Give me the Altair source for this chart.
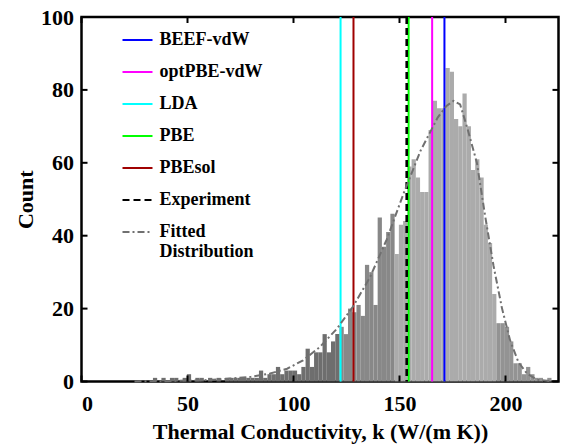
import altair as alt
import pandas as pd

# ---------------- data ----------------
bin_start = 33.7
bin_width = 2.0
counts = [1, 0, 1, 0, 1, 1, 0, 1, 2, 0,
          1, 1, 0, 1, 0, 1, 0, 1, 1, 1,
          1, 1, 1, 1, 1, 3, 1, 2, 2, 4,
          2, 3, 3, 3, 2, 4, 9, 4, 8, 8,
          13, 8, 11, 13, 15, 13, 20, 19, 21, 18,
          32, 30, 21, 45, 37, 41, 46, 35, 43, 44,
          59, 61, 56, 52, 52, 69, 77, 75, 75, 86,
          85, 72, 70, 79, 70, 58, 61, 56, 43, 38,
          24, 16, 16, 15, 11, 5, 5, 2, 4, 2,
          1, 1, 0, 1]
shade_edges = [121.7, 147.7, 195.7]
shade_colors = ["#6e6e6e", "#888888", "#ababab", "#939393"]

methods = ["BEEF-vdW", "optPBE-vdW", "LDA", "PBE", "PBEsol", "Experiment"]
method_k = [171.2, 165.4, 122.2, 154.3, 128.3, 153.4]
method_colors = ["#0000ff", "#ff00ff", "#00ffff", "#00ff00", "#a00000", "#000000"]
fit_name = "Fitted Distribution"
fit_color = "#707070"

fit_x = [25, 40, 60, 70, 80, 89, 97, 104.5, 112.5, 120.5, 128, 136, 144, 152,
         160, 168, 172, 175.5, 178.6, 182, 186.5, 190.4, 194.3, 198.3, 202.2,
         206.1, 210.1, 214.8, 222]
fit_y = [0.02, 0.1, 0.4, 0.8, 1.3, 2.2, 3.5, 5.8, 9.5, 14.5, 20.5, 28.5, 39, 51.7,
         63.4, 72.4, 75.5, 77, 76, 69.5, 60, 45.4, 31.9, 20.2, 11.2,
         5.3, 2.2, 0.5, 0.05]

x_ticks = [0, 50, 100, 150, 200]
y_ticks = [0, 20, 40, 60, 80, 100]
x_domain = [0, 225]
y_domain = [0, 100]

# ---------------- tables ----------------
def shade_for(x):
    for edge, col in zip(shade_edges, shade_colors):
        if x < edge - 1e-6:
            return col
    return shade_colors[-1]

starts = [bin_start + i * bin_width for i in range(len(counts))]
bars_df = pd.DataFrame({
    "x": starts,
    "x2": [s + bin_width for s in starts],
    "y": counts,
    "shade": [shade_for(s) for s in starts],
})
rules_df = pd.DataFrame({
    "x": method_k,
    "name": methods,
    "w": [2.6 if m == "Experiment" else 2.0 for m in methods],
})
fit_df = pd.DataFrame({"x": fit_x, "y": fit_y, "name": fit_name})
xt_df = pd.DataFrame({"x": x_ticks})
yt_df = pd.DataFrame({"y": y_ticks})

W, H = 477, 364.5
FONT = "Liberation Serif"

order = methods + [fit_name]
color_scale = alt.Scale(domain=order, range=method_colors + [fit_color])
dash_scale = alt.Scale(domain=order, range=[[1, 0]] * 5 + [[7, 4], [7, 3, 2, 3]])

legend = alt.Legend(
    title=None, orient="none", legendX=40, legendY=7,
    symbolType="stroke", symbolSize=900, symbolStrokeWidth=2,
    labelFont=FONT, labelFontWeight="bold", labelFontSize=18, labelColor="black",
    labelOffset=6, rowPadding=7, padding=0, labelLimit=0,
    labelExpr="datum.label == 'Fitted Distribution' ? ['Fitted', 'Distribution'] : datum.label",
)

xscale = alt.Scale(domain=x_domain, nice=False, zero=False)
yscale = alt.Scale(domain=y_domain, nice=False)
xaxis = alt.Axis(values=x_ticks, title="Thermal Conductivity,  k (W/(m K))",
                 ticks=False, domain=False, grid=False, labelPadding=12,
                 titlePadding=7, format="d")
yaxis = alt.Axis(values=y_ticks, title="Count", ticks=False, domain=False,
                 grid=False, labelPadding=8, titlePadding=3, format="d")

X = alt.X("x:Q", scale=xscale, axis=xaxis)
Y = alt.Y("y:Q", scale=yscale, axis=yaxis)

bars = alt.Chart(bars_df).mark_rect(strokeWidth=0).encode(
    x=X, x2="x2:Q", y=Y, y2=alt.datum(0), color=alt.Color("shade:N", scale=None)
)
rules = alt.Chart(rules_df).mark_rule().encode(
    x=X,
    color=alt.Color("name:N", scale=color_scale, legend=legend),
    strokeDash=alt.StrokeDash("name:N", scale=dash_scale, legend=legend),
    strokeWidth=alt.StrokeWidth("w:Q", scale=None),
)
fit = alt.Chart(fit_df).mark_line(strokeWidth=2).encode(
    x=X, y=Y,
    color=alt.Color("name:N", scale=color_scale, legend=legend),
    strokeDash=alt.StrokeDash("name:N", scale=dash_scale, legend=legend),
)
tick_len = 6
left_t = alt.Chart(yt_df).mark_rule(color="black", strokeWidth=2).encode(
    y=Y, x=alt.value(0), x2=alt.value(tick_len))
right_t = alt.Chart(yt_df).mark_rule(color="black", strokeWidth=2).encode(
    y=Y, x=alt.value(W), x2=alt.value(W - tick_len))
bottom_t = alt.Chart(xt_df).mark_rule(color="black", strokeWidth=2).encode(
    x=X, y=alt.value(H), y2=alt.value(H - tick_len))
top_t = alt.Chart(xt_df).mark_rule(color="black", strokeWidth=2).encode(
    x=X, y=alt.value(0), y2=alt.value(tick_len))

chart = alt.layer(bars, rules, fit, left_t, right_t, bottom_t, top_t).properties(
    width=W, height=H,
    autosize=alt.AutoSizeParams(type="none"),
    padding={"left": 73.5, "top": 9, "right": 4, "bottom": 62},
    background="white",
).configure_axis(
    labelFont=FONT, labelFontWeight="bold", labelFontSize=22, labelColor="black",
    titleFont=FONT, titleFontWeight="bold", titleFontSize=22, titleColor="black",
).configure_view(stroke="black", strokeWidth=2.5)

chart.save("out.html", embed_options={"renderer": "svg", "actions": False})
